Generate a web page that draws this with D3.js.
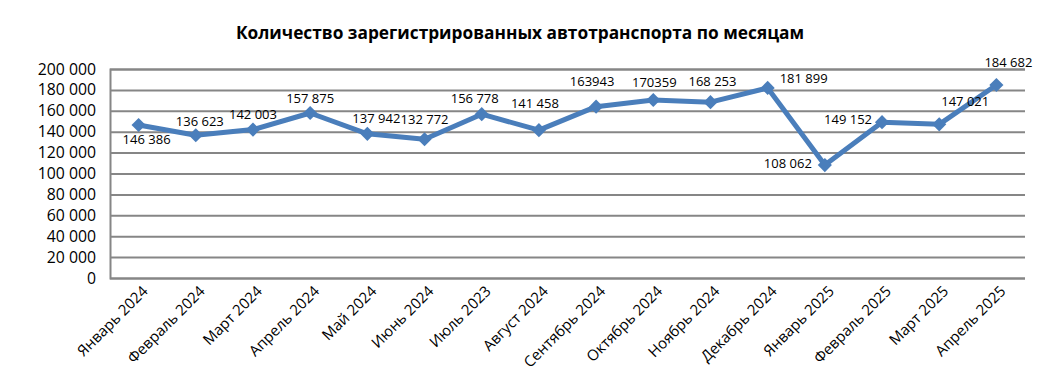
<!DOCTYPE html>
<html lang="ru">
<head>
    <meta charset="UTF-8">
    <title>Автотранспорт по месяцам</title>
    <script src="https://d3js.org/d3.v7.min.js"></script>
    <style>
        body { margin: 0; background: #fff; }
        text { font-family: "Open Sans", sans-serif; fill: #000; }
    </style>
</head>
<body>
<div id="chart"></div>
<script>
    // ------------------------------ données ------------------------------
    var mois = ["Январь 2024", "Февраль 2024", "Март 2024", "Апрель 2024", "Май 2024", "Июнь 2024",
        "Июль 2023", "Август 2024", "Сентябрь 2024", "Октябрь 2024", "Ноябрь 2024", "Декабрь 2024",
        "Январь 2025", "Февраль 2025", "Март 2025", "Апрель 2025"];
    var valeurs = [146386, 136623, 142003, 157875, 137942, 132772, 156778, 141458,
        163943, 170359, 168253, 181899, 108062, 149152, 147021, 184682];
    var etiquettes = ["146 386", "136 623", "142 003", "157 875", "137 942", "132 772", "156 778", "141 458",
        "163943", "170359", "168 253", "181 899", "108 062", "149 152", "147 021", "184 682"];
    var ticksY = [0, 20000, 40000, 60000, 80000, 100000, 120000, 140000, 160000, 180000, 200000];

    // placement des étiquettes (dx, dy en px par rapport au point)
    var decalages = [[8, 14], [4, -14], [0, -15], [0, -15], [9, -15], [0, -20], [-7, -16], [-4, -27],
        [-4, -25], [1, -18], [2, -21], [36, -9], [-37, -2], [-34, -3], [26, -23], [12, -23]];

    // ------------------------------ dessin ------------------------------
    var W = 1063, H = 391;
    var m = { left: 110, right: 38, top: 69, bottom: 113 };

    var svg = d3.select("#chart").append("svg").attr("width", W).attr("height", H);

    var x = d3.scaleBand().domain(mois).range([m.left, W - m.right]);
    var y = d3.scaleLinear().domain([0, 200000]).range([H - m.bottom, m.top]);

    svg.append("text")
        .attr("x", 520).attr("y", 39)
        .attr("text-anchor", "middle")
        .style("font-size", "17.3px").style("font-weight", "bold")
        .text("Количество зарегистрированных автотранспорта по месяцам");

    // grille
    var axeY = d3.axisLeft(y).tickValues(ticksY)
        .tickSize(-(W - m.left - m.right)).tickPadding(14)
        .tickFormat(d => d3.format(",")(d).replace(/,/g, " "));
    var gy = svg.append("g").attr("transform", "translate(" + m.left + ",0)").call(axeY);
    gy.select(".domain").attr("stroke", "#868686").attr("stroke-width", 2);
    gy.selectAll(".tick line").attr("stroke", "#868686").attr("stroke-width", 2);
    gy.selectAll(".tick text").style("font-size", "15.8px").attr("fill", "#000");

    // axe X
    var gx = svg.append("g").attr("transform", "translate(0," + (H - m.bottom) + ")")
        .call(d3.axisBottom(x).tickSize(0));
    gx.select(".domain").remove();
    gx.selectAll(".tick text")
        .style("font-size", "15px").attr("fill", "#000")
        .attr("text-anchor", "end")
        .attr("dy", 0).attr("dx", 0)
        .attr("transform", "translate(8,12) rotate(-45)");

    // ligne
    var ligne = d3.line()
        .x((d, i) => x(mois[i]) + x.bandwidth() / 2)
        .y(d => y(d));

    svg.append("path").datum(valeurs)
        .attr("d", ligne)
        .attr("fill", "none").attr("stroke", "#4a7ebb").attr("stroke-width", 5)
        .attr("stroke-linejoin", "round");

    svg.selectAll(".pt").data(valeurs).enter().append("path")
        .attr("class", "pt")
        .attr("d", d3.symbol().type(d3.symbolSquare).size(100))
        .attr("transform", (d, i) => "translate(" + (x(mois[i]) + x.bandwidth() / 2) + "," + y(d) + ") rotate(45)")
        .attr("fill", "#4a7ebb");

    svg.selectAll(".lbl").data(valeurs).enter().append("text")
        .attr("class", "lbl")
        .attr("x", (d, i) => x(mois[i]) + x.bandwidth() / 2 + decalages[i][0])
        .attr("y", (d, i) => y(d) + decalages[i][1])
        .attr("dy", "0.35em")
        .attr("text-anchor", "middle")
        .style("font-size", "13px")
        .text((d, i) => etiquettes[i]);
</script>
</body>
</html>
